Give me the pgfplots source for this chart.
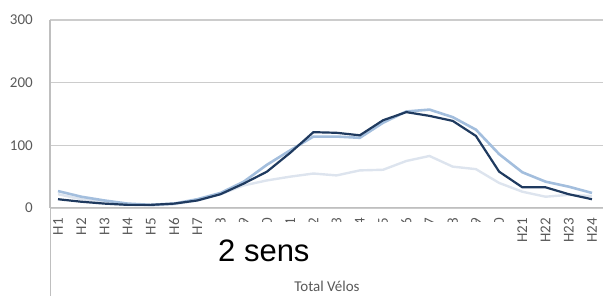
\documentclass[border=0pt]{standalone}
\usepackage{pgfplots}
\pgfplotsset{compat=1.18}
\usepackage{fontspec}
\setmainfont{Carlito}
\newfontfamily\arialfont{Liberation Sans}
\definecolor{darkline}{HTML}{1F3A5F}
\definecolor{midline}{HTML}{A3BEDD}
\definecolor{paleline}{HTML}{DDE4EE}
\definecolor{axisc}{HTML}{BFBFBF}
\definecolor{gridc}{HTML}{CCCCCC}
\definecolor{labc}{HTML}{595959}
\begin{document}
\begin{tikzpicture}
\path[use as bounding box] (0,0) rectangle (603pt,296pt);
\begin{axis}[
  at={(50pt,88pt)}, anchor=south west,
  scale only axis, width=553pt, height=188pt,
  xmin=0.655, xmax=24.474, ymin=0, ymax=300,
  axis lines=left,
  axis line style={axisc, line width=1pt, -},
  xtick={1,...,24},
  xticklabels={H1,H2,H3,H4,H5,H6,H7,H8,H9,H10,H11,H12,H13,H14,H15,H16,H17,H18,H19,H20,H21,H22,H23,H24},
  x tick label style={rotate=90, anchor=east, font=\fontsize{15}{15}\selectfont, text=labc, inner sep=0pt},
  xticklabel shift=10pt,
  ytick={0,100,200,300},
  y tick label style={anchor=east, font=\fontsize{15}{15}\selectfont, text=labc, inner sep=0pt},
  yticklabel shift=17pt,
  /pgf/number format/assume math mode=true,
  major tick length=0pt,
  ymajorgrids=true,
  major grid style={color=gridc, line width=1.6pt, solid},
  clip=false,
]
\addplot[paleline, line width=2.4pt] coordinates {
(1,22) (2,14) (3,9) (4,5) (5,4) (6,6) (7,12) (8,22) (9,36) (10,44) (11,50) (12,55) (13,52) (14,60) (15,61) (16,75) (17,83) (18,66) (19,62) (20,40) (21,26) (22,18) (23,21) (24,19)};
\addplot[midline, line width=2.6pt] coordinates {
(1,27) (2,18) (3,12) (4,7) (5,5) (6,7) (7,14) (8,24) (9,42) (10,69) (11,92) (12,114) (13,114) (14,112) (15,136) (16,154) (17,157) (18,145) (19,125) (20,86) (21,57) (22,42) (23,34) (24,24)};
\addplot[darkline, line width=2.2pt] coordinates {
(1,14) (2,10) (3,7) (4,5) (5,5) (6,7) (7,12) (8,22) (9,39) (10,58) (11,88) (12,121) (13,120) (14,116) (15,140) (16,153) (17,147) (18,139) (19,115) (20,58) (21,33) (22,33) (23,22) (24,14)};
\end{axis}
\draw[axisc, line width=1pt] (50pt,276pt) -- (50pt,0pt);
\fill[white] (204pt,74pt) rectangle (511pt,17pt);
\node[anchor=base west, inner sep=0pt, font=\arialfont\fontsize{31}{31}\selectfont] at (218pt,34pt) {2 sens};
\node[anchor=center, inner sep=0pt, font=\fontsize{15}{15}\selectfont, text=labc] at (327pt,10pt) {Total Vélos};
\end{tikzpicture}
\end{document}
